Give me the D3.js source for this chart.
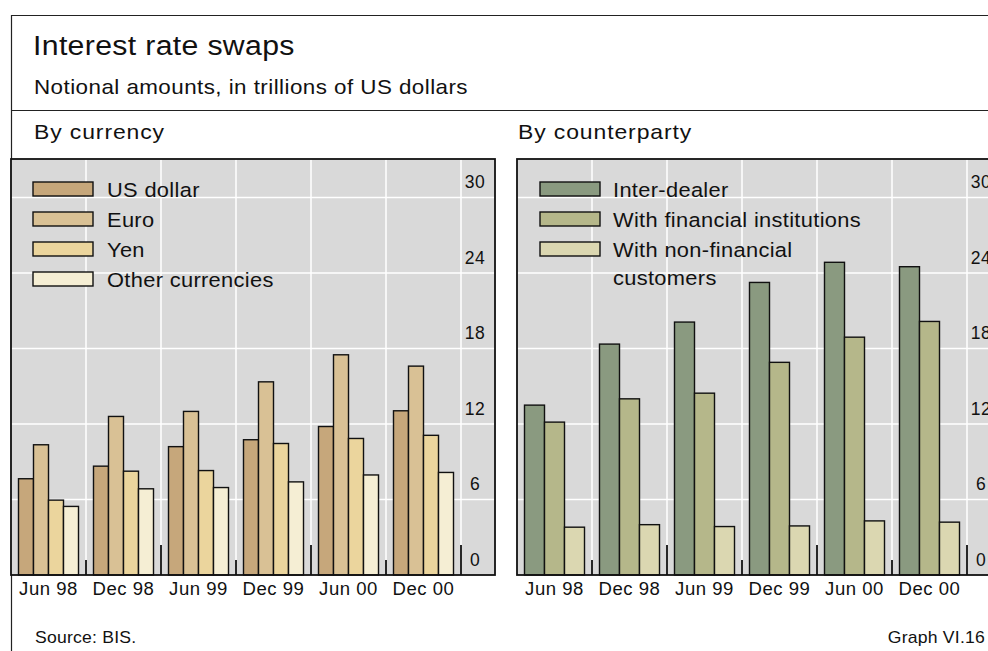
<!DOCTYPE html>
<html>
<head>
<meta charset="utf-8">
<script src="https://cdn.jsdelivr.net/npm/d3@7"></script>
<style>
  html, body { margin: 0; padding: 0; background: #fff; }
  svg { display: block; }
  text { font-family: "Liberation Sans", Arial, Helvetica, sans-serif; fill: #111; }
</style>
</head>
<body>
<svg id="chart" width="988" height="651"></svg>
<script>
// Periods shown on both panels
const periods = ["Jun 98", "Dec 98", "Jun 99", "Dec 99", "Jun 00", "Dec 00"];

// By currency (trillions of US dollars)
const currencyNames = ["US dollar", "Euro", "Yen", "Other currencies"];
const usDollar = [7.65, 8.65, 10.2, 10.75, 11.8, 13.05];
const euro     = [10.35, 12.6, 13.0, 15.35, 17.5, 16.6];
const yen      = [5.95, 8.25, 8.3, 10.45, 10.85, 11.1];
const otherCcy = [5.45, 6.85, 6.95, 7.4, 7.95, 8.15];
const currencyColors = ["#c6a77b", "#d9c195", "#ebd59d", "#f5eed4"];

// By counterparty (trillions of US dollars)
const counterpartyNames = ["Inter-dealer", "With financial institutions", ["With non-financial", "customers"]];
const interDealer  = [13.5, 18.35, 20.1, 23.25, 24.85, 24.5];
const financial    = [12.15, 14.0, 14.45, 16.9, 18.9, 20.15];
const nonFinancial = [3.8, 4.0, 3.85, 3.9, 4.3, 4.2];
const counterpartyColors = ["#8a9a80", "#b5b78a", "#dbd7b1"];

// Value axis ticks
const yTicks = [0, 6, 12, 18, 24, 30];

const svg = d3.select("#chart");

// Text helper: a slightly extended grotesque look, widened about its anchor point
function label(parent, x, y, str, size, opts) {
  const o = Object.assign({ sx: 1.12, ls: 0.3, anchor: "start" }, opts || {});
  return parent.append("text")
    .attr("transform", `translate(${x},${y}) scale(${o.sx},1)`)
    .attr("font-size", size)
    .attr("letter-spacing", o.ls)
    .attr("text-anchor", o.anchor)
    .text(str);
}

// Outer frame
const frameColor = "#222";
svg.append("line").attr("x1", 11).attr("x2", 988).attr("y1", 15.5).attr("y2", 15.5)
  .attr("stroke", frameColor).attr("stroke-width", 1.2);
svg.append("line").attr("x1", 11.5).attr("x2", 11.5).attr("y1", 15).attr("y2", 651)
  .attr("stroke", frameColor).attr("stroke-width", 1.2);
svg.append("line").attr("x1", 11).attr("x2", 988).attr("y1", 110.5).attr("y2", 110.5)
  .attr("stroke", frameColor).attr("stroke-width", 1.2);

// Headings
label(svg, 33, 55, "Interest rate swaps", 27, { ls: 0.3 });
label(svg, 34, 94, "Notional amounts, in trillions of US dollars", 20, { ls: 0.4 });
label(svg, 34, 139, "By currency", 20.5, { ls: 0.8 });
label(svg, 518, 139, "By counterparty", 20.5, { ls: 0.8 });
label(svg, 35, 643, "Source: BIS.", 16, { sx: 1.1, ls: 0.2 });
label(svg, 985, 643, "Graph VI.16", 16, { sx: 1.1, ls: 0.2, anchor: "end" });

// Shared vertical scale
const y = d3.scaleLinear().domain([0, 30]).range([575, 197.5]);
const panelTop = 159;

function panel(left, seriesNames, seriesValues, colors, legendRows) {
  const groupWidth = 75;
  const plotWidth = groupWidth * periods.length;
  const panelWidth = plotWidth + 34;
  const g = svg.append("g").attr("transform", `translate(${left},0)`);

  const x = d3.scaleBand().domain(periods).range([0, plotWidth]).padding(0);
  const inner = d3.scaleBand().domain(d3.range(seriesValues.length))
    .range([7.5, 67.5]).padding(0);

  // Plot background
  g.append("rect").attr("x", 0).attr("y", panelTop)
    .attr("width", panelWidth).attr("height", y(0) - panelTop)
    .attr("fill", "#d9d9d9");

  // Horizontal grid
  g.append("g").selectAll("line").data(yTicks.filter(d => d > 0)).join("line")
    .attr("x1", 0).attr("x2", panelWidth)
    .attr("y1", d => y(d)).attr("y2", d => y(d))
    .attr("stroke", "#fff").attr("stroke-width", 1.5);

  // Vertical grid at period boundaries
  g.append("g").selectAll("line").data(periods).join("line")
    .attr("x1", d => x(d) + x.bandwidth()).attr("x2", d => x(d) + x.bandwidth())
    .attr("y1", panelTop).attr("y2", y(0))
    .attr("stroke", "#fff").attr("stroke-width", 1.5);

  // Legend
  const lg = g.append("g");
  legendRows.forEach((row, i) => {
    const top = 182 + i * 30;
    lg.append("rect").attr("x", row.sx).attr("y", top)
      .attr("width", 60).attr("height", 14)
      .attr("fill", colors[i]).attr("stroke", "#111").attr("stroke-width", 1.4);
    const lines = Array.isArray(seriesNames[i]) ? seriesNames[i] : [seriesNames[i]];
    lines.forEach((ln, j) => label(lg, row.tx, top + 14.5 + j * 28, ln, 19.5, { ls: 0.3 }));
  });

  // Bars
  const groups = g.append("g").selectAll("g").data(periods).join("g")
    .attr("transform", d => `translate(${x(d)},0)`);
  groups.selectAll("rect")
    .data((p, pi) => seriesValues.map((vals, si) => ({ si, v: vals[pi] })))
    .join("rect")
    .attr("x", d => inner(d.si))
    .attr("width", inner.bandwidth())
    .attr("y", d => y(d.v))
    .attr("height", d => y(0) - y(d.v))
    .attr("fill", d => colors[d.si])
    .attr("stroke", "#111").attr("stroke-width", 1.4);

  // Period separator ticks: taller at year boundaries
  g.append("g").selectAll("line").data(periods).join("line")
    .attr("x1", d => x(d) + x.bandwidth()).attr("x2", d => x(d) + x.bandwidth())
    .attr("y1", (d, i) => i % 2 === 0 ? y(0) - 15 : y(0) - 30)
    .attr("y2", y(0))
    .attr("stroke", "#111").attr("stroke-width", 1.8);

  // Value labels on the right
  g.append("g").selectAll("text").data(yTicks).join("text")
    .attr("x", plotWidth + 14).attr("y", d => y(d) - 9.5)
    .attr("text-anchor", "middle").attr("font-size", 17.5)
    .attr("letter-spacing", 0.4)
    .text(d => d);

  // Period labels
  const pl = g.append("g");
  periods.forEach(p => label(pl, x(p) + x.bandwidth() / 2, 595, p, 17.5,
    { sx: 1.06, ls: 0.5, anchor: "middle" }));

  // Panel border
  g.append("rect").attr("x", 0).attr("y", panelTop)
    .attr("width", panelWidth).attr("height", y(0) - panelTop)
    .attr("fill", "none").attr("stroke", "#111").attr("stroke-width", 1.8);
}

panel(11, currencyNames, [usDollar, euro, yen, otherCcy], currencyColors,
  currencyNames.map(() => ({ sx: 22, tx: 96 })));
panel(517, counterpartyNames, [interDealer, financial, nonFinancial], counterpartyColors,
  counterpartyNames.map(() => ({ sx: 23, tx: 96 })));
</script>
</body>
</html>
